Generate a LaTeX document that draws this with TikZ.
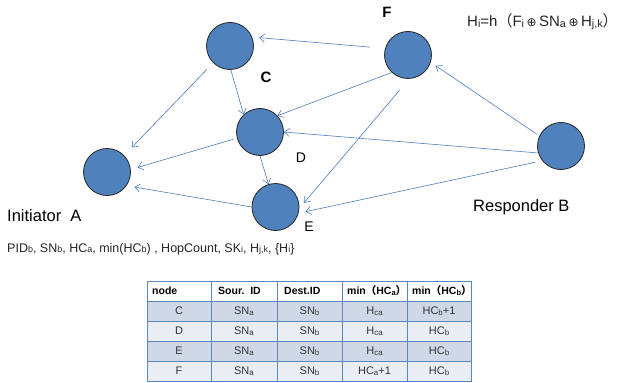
\documentclass[tikz,border=0pt]{standalone}
\usepackage{fontspec}
\setmainfont{Liberation Sans}
\newfontfamily\cjkfont{Noto Sans CJK KR}
\newfontfamily\symfont{DejaVu Sans}
\usetikzlibrary{arrows.meta}
\newcommand\lsub[1]{\raisebox{-0.12ex}{\scalebox{0.72}{#1}}}
\newcommand\fwl{{\cjkfont （}}
\newcommand\fwr{{\cjkfont ）}}
\newcommand\fwrtight{\makebox[0.45em][l]{\cjkfont ）}}
\newcommand\opl{{\symfont\scalebox{0.8}{⊕}}}
\definecolor{nodeblue}{RGB}{79,129,189}
\definecolor{edgeblue}{RGB}{74,126,190}
\definecolor{tblline}{RGB}{92,134,192}
\definecolor{rowA}{RGB}{208,216,232}
\definecolor{rowB}{RGB}{233,237,244}
\tikzset{
  peer/.style={circle, fill=nodeblue, draw=black!85, line width=0.8pt, minimum size=47pt, inner sep=0pt},
  link/.style={draw=edgeblue, line width=0.6pt, -{Straight Barb[length=5pt,width=8pt]}},
  lbl/.style={inner sep=0pt, font=\fontsize{14}{16}\selectfont},
  role/.style={inner sep=0pt, anchor=base west, font=\fontsize{16.5}{18}\selectfont},
  hd/.style={inner sep=0pt, anchor=west, font=\fontsize{10.5}{12}\bfseries\selectfont},
  cell/.style={inner sep=0pt, text=black!80, font=\fontsize{11}{12}\selectfont},
  grid/.style={draw=tblline, line width=0.9pt}
}
\begin{document}
\begin{tikzpicture}[x=1pt,y=-1pt]
\path[use as bounding box] (0,0) rectangle (617,382);
% peers
\node[peer] (C) at (230,46) {};
\node[peer] (D) at (260,132) {};
\node[peer] (A) at (107,172) {};
\node[peer] (E) at (275.5,207) {};
\node[peer] (F) at (408,55) {};
\node[peer] (B) at (561,146) {};
% connectors
\draw[link, shorten <=15pt, shorten >=7pt] (F.164) -- (C.22);
\draw[link, shorten <=9pt, shorten >=11pt] (C.225) -- (A.44);
\draw[link] (C.272) -- (D.133);
\draw[link, shorten <=4pt, shorten >=7pt] (D.195) -- (A.6);
\draw[link] (D.270) -- (E.107);
\draw[link, shorten >=8pt] (E.180) -- (A.325);
\draw[link] (F.227) -- (D.43);
\draw[link, shorten <=15pt, shorten >=7pt] (F.273) -- (E.357);
\draw[link, shorten <=3pt, shorten >=6pt] (B.155) -- (F.342);
\draw[link] (B.197) -- (D.0);
\draw[link, shorten <=7pt, shorten >=7pt] (B.218) -- (E.345);
% labels
\node[lbl, font=\fontsize{15}{16}\bfseries\selectfont] (lC) at (266,77) {C};
\node[lbl] (lD) at (301,158) {D};
\node[lbl] (lE) at (309,227) {E};
\node[lbl, font=\fontsize{15}{16}\bfseries\selectfont] (lF) at (387,12) {F};
\node[role] (lA) at (7,221) {Initiator\ \ A};
\node[role] (lB) at (473,211) {Responder B};
\node[inner sep=0pt, anchor=base west, font=\fontsize{15}{17}\selectfont, text=black!85] (hf) at (467,27)
  {H\lsub{i}=h\fwl F\lsub{i}\,\opl\,SN\lsub{a}\,\opl\,H\lsub{j,k}\fwrtight};
\node[inner sep=0pt, anchor=base west, font=\fontsize{12.5}{14}\selectfont, text=black!85] (msg) at (7,252)
  {PID\lsub{b}, SN\lsub{b}, HC\lsub{a}, min(HC\lsub{b}) , HopCount, SK\lsub{i}, H\lsub{j,k}, \{H\lsub{i}\}};
% table
\fill[white] (147,281) rectangle (471,301);
\fill[rowA] (147,301) rectangle (471,321);
\fill[rowB] (147,321) rectangle (471,341);
\fill[rowA] (147,341) rectangle (471,361);
\fill[rowB] (147,361) rectangle (471,381);
\draw[grid] (147,281) rectangle (471,381);
\foreach \yy in {301,321,341,361} \draw[grid] (147,\yy) -- (471,\yy);
\foreach \xx in {211,277,342,407} \draw[grid] (\xx,281) -- (\xx,381);
\node[hd] (h1) at (152,291) {node};
\node[hd] (h2) at (218,291) {Sour.\ \ ID};
\node[hd] (h3) at (284,291) {Dest.ID};
\node[hd] (h4) at (347,291) {min\fwl HC\lsub{a}\fwr};
\node[hd] (h5) at (412,291) {min\fwl HC\lsub{b}\fwrtight};
% rows
\node[cell] (c11) at (179,311) {C};
\node[cell] (c12) at (244,311) {SN\lsub{a}};
\node[cell] (c13) at (309.5,311) {SN\lsub{b}};
\node[cell] (c14) at (374.5,311) {H\lsub{ca}};
\node[cell] (c15) at (439,311) {HC\lsub{b}+1};
\node[cell] (c21) at (179,331) {D};
\node[cell] (c22) at (244,331) {SN\lsub{a}};
\node[cell] (c23) at (309.5,331) {SN\lsub{b}};
\node[cell] (c24) at (374.5,331) {H\lsub{ca}};
\node[cell] (c25) at (439,331) {HC\lsub{b}};
\node[cell] (c31) at (179,351) {E};
\node[cell] (c32) at (244,351) {SN\lsub{a}};
\node[cell] (c33) at (309.5,351) {SN\lsub{b}};
\node[cell] (c34) at (374.5,351) {H\lsub{ca}};
\node[cell] (c35) at (439,351) {HC\lsub{b}};
\node[cell] (c41) at (179,371) {F};
\node[cell] (c42) at (244,371) {SN\lsub{a}};
\node[cell] (c43) at (309.5,371) {SN\lsub{b}};
\node[cell] (c44) at (374.5,371) {HC\lsub{a}+1};
\node[cell] (c45) at (439,371) {HC\lsub{b}};
\end{tikzpicture}
\end{document}
